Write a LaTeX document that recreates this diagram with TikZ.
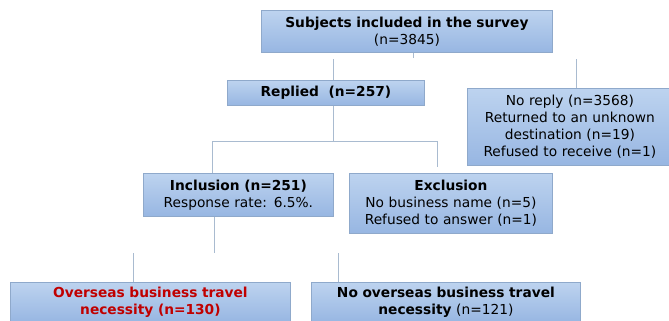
\documentclass[tikz,border=0pt]{standalone}
\usepackage{fontspec}
\setmainfont{DejaVu Sans}
\definecolor{boxtop}{HTML}{BDD3EF}
\definecolor{boxbot}{HTML}{97B6E2}
\definecolor{boxedge}{HTML}{8FA9CB}
\definecolor{lnk}{HTML}{A9BBD0}
\definecolor{redtxt}{HTML}{C00000}
\begin{document}
\begin{tikzpicture}[x=1bp,y=-1bp,
  boxnode/.style={draw=boxedge, line width=0.8bp, top color=boxtop, bottom color=boxbot,
    anchor=north west, inner sep=1bp, align=center, font=\fontsize{13.8}{17}\selectfont},
  link/.style={draw=lnk, line width=1bp}]
\useasboundingbox (0,0) rectangle (669,320);
\clip (0,0) rectangle (669,320);
\node[boxnode, minimum width=291bp, minimum height=42bp, text width=289bp] (top) at (261,10)
  {\textbf{Subjects included in the survey}\\(n=3845)};
\node[boxnode, minimum width=197bp, minimum height=25bp, text width=195bp] (rep) at (227,80)
  {\textbf{Replied\hspace{0.7em}(n=257)}};
\node[boxnode, minimum width=205bp, minimum height=77bp, text width=203bp] (norep) at (467,88)
  {No reply (n=3568)\\Returned to an unknown\\destination (n=19)\\Refused to receive (n=1)};
\node[boxnode, minimum width=190bp, minimum height=43bp, text width=188bp] (inc) at (143,173)
  {\textbf{Inclusion (n=251)}\\Response rate: 6.5\%.};
\node[boxnode, minimum width=203bp, minimum height=60bp, text width=201bp] (exc) at (349,173)
  {\textbf{Exclusion}\\No business name (n=5)\\Refused to answer (n=1)};
\node[boxnode, minimum width=280bp, minimum height=40bp, text width=278bp] (ovs) at (10,282)
  {\textcolor{redtxt}{\textbf{Overseas business travel}}\\\textcolor{redtxt}{\textbf{necessity (n=130)}}};
\node[boxnode, minimum width=269bp, minimum height=40bp, text width=267bp] (novs) at (311,282)
  {\textbf{No overseas business travel}\\\textbf{necessity} (n=121)};
% connectors
\coordinate (c1) at (413,58);
\draw[link] (c1) -- (c1 |- top.south);
\coordinate (c2) at (333,59);
\draw[link] (c2) -- (c2 |- rep.north);
\coordinate (c3) at (576,59);
\draw[link] (c3) -- (c3 |- norep.north);
\coordinate (c4) at (333,141);
\draw[link] (c4) -- (c4 |- rep.south);
\coordinate (c5) at (212,141);
\coordinate (c6) at (437,141);
\draw[link] (c5) -- (c6);
\draw[link] (c5) -- (c5 |- inc.north);
\coordinate (c7) at (437,167);
\draw[link] (c6) -- (c7);
\coordinate (c8) at (214,253);
\draw[link] (c8) -- (c8 |- inc.south);
\coordinate (c9) at (133,253);
\draw[link] (c9) -- (c9 |- ovs.north);
\coordinate (c10) at (338,253);
\draw[link] (c10) -- (c10 |- novs.north);
\end{tikzpicture}
\end{document}
